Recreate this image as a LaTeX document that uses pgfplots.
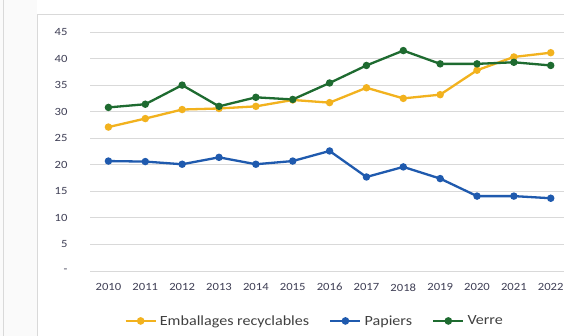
\documentclass[border=0pt]{standalone}
\usepackage{fontspec}
\setmainfont{Carlito}
\newfontfamily\wide[FakeStretch=1.15]{Carlito}
\usepackage{pgfplots}
\pgfplotsset{compat=1.18}

\definecolor{orangeE}{HTML}{F2B21E}
\definecolor{blueP}{HTML}{1F5AAE}
\definecolor{greenV}{HTML}{1E6B30}
\definecolor{gridc}{HTML}{D9D9D9}
\definecolor{tickc}{HTML}{3F3F55}

\begin{document}
\begin{tikzpicture}
\useasboundingbox (0,0) rectangle (564pt,336pt);
\clip (0,0) rectangle (564pt,336pt);
% scanned page background
\fill[white] (0,0) rectangle (564pt,336pt);
\fill[black!2] (0,0) rectangle (37pt,336pt);
\draw[black!15, line width=0.8pt] (3pt,0) -- (3pt,336pt);
\draw[black!15, line width=0.8pt] (37pt,-2pt) -- (37pt,322pt) -- (570pt,322pt);
\begin{axis}[
  at={(90pt,65pt)}, anchor=south west,
  scale only axis,
  width=474pt, height=239pt,
  xmin=-0.5, xmax=12.36,
  ymin=0, ymax=45,
  xtick={0,...,12},
  xticklabels={2010,2011,2012,2013,2014,2015,2016,2017,2018,2019,2020,2021,2022},
  ytick={0,5,...,45},
  yticklabels={-,5,10,15,20,25,30,35,40,45},
  axis line style={draw=none},
  tick style={draw=none},
  ymajorgrids=true,
  grid style={gridc, line width=0.8pt},
  ticklabel style={font=\wide\fontsize{11}{12}\selectfont, text=tickc},
  yticklabel style={xshift=-19pt},
  xticklabel style={yshift=-9pt},
  /pgf/number format/assume math mode=true,
  clip=false,
  legend columns=3,
  legend style={at={(0.474,-0.209)}, anchor=center, draw=none, fill=none,
    font=\wide\fontsize{14}{16}\selectfont, text=black!75,
    /tikz/every odd column/.append style={column sep=1pt},
    /tikz/every even column/.append style={column sep=18pt}},
  legend image code/.code={
    \draw[#1, line width=2.4pt] (0pt,0pt) -- (30pt,0pt);
    \fill[#1] (15pt,0pt) circle (2.6pt);
  },
  every axis plot/.append style={line width=2.3pt, mark=*, mark size=2.5pt},
]
\addplot[orangeE, mark options={fill=orangeE}] coordinates {
  (0,27.1)(1,28.7)(2,30.4)(3,30.6)(4,31.0)(5,32.2)(6,31.7)(7,34.5)(8,32.5)(9,33.2)(10,37.8)(11,40.3)(12,41.1)
};
\addplot[blueP, mark options={fill=blueP}] coordinates {
  (0,20.7)(1,20.6)(2,20.1)(3,21.4)(4,20.1)(5,20.7)(6,22.6)(7,17.7)(8,19.6)(9,17.4)(10,14.1)(11,14.1)(12,13.7)
};
\addplot[greenV, mark options={fill=greenV}] coordinates {
  (0,30.8)(1,31.4)(2,35.0)(3,31.0)(4,32.7)(5,32.3)(6,35.4)(7,38.7)(8,41.5)(9,39.0)(10,39.0)(11,39.3)(12,38.7)
};
\legend{Emballages recyclables, Papiers, Verre}
\end{axis}
\end{tikzpicture}
\end{document}
